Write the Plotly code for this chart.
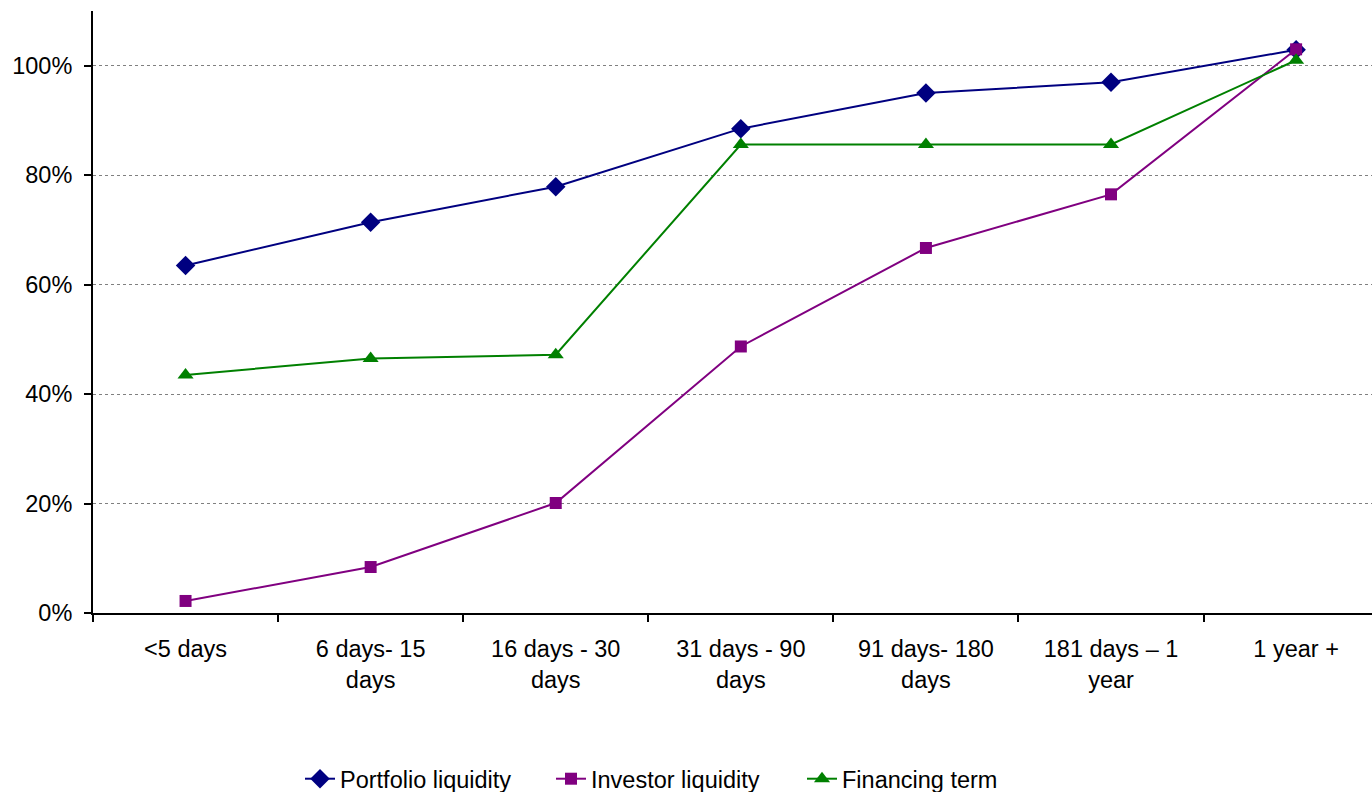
import plotly.graph_objects as go

categories = ["<5 days", "6 days- 15<br>days", "16 days - 30<br>days", "31 days - 90<br>days",
              "91 days- 180<br>days", "181 days – 1<br>year", "1 year +"]
portfolio_liquidity = [0.635, 0.714, 0.779, 0.885, 0.950, 0.970, 1.029]
investor_liquidity = [0.022, 0.084, 0.201, 0.487, 0.667, 0.765, 1.030]
financing_term = [0.435, 0.465, 0.472, 0.856, 0.856, 0.856, 1.010]

series = [
    ("Portfolio liquidity", portfolio_liquidity, "#000080", "diamond", 15),
    ("Investor liquidity", investor_liquidity, "#800080", "square", 12),
    ("Financing term", financing_term, "#008000", "triangle-up", 14),
]

fig = go.Figure()
for name, vals, color, symbol, size in series:
    fig.add_trace(go.Scatter(
        x=categories, y=vals, name=name, mode="lines+markers",
        line=dict(color=color, width=2),
        marker=dict(symbol=symbol, size=size, color=color),
    ))

font = dict(family="Liberation Sans, Arial, sans-serif", size=23.5, color="black")
fig.update_layout(
    width=1372, height=792,
    margin=dict(l=93, r=0, t=11, b=179, autoexpand=False),
    paper_bgcolor="white", plot_bgcolor="white",
    font=font,
    showlegend=True,
    legend=dict(orientation="h", xref="container", x=300 / 1372, xanchor="left",
                yref="container", y=0.0165, yanchor="middle",
                entrywidth=206, entrywidthmode="pixels",
                font=font, tracegroupgap=0),
)
fig.update_xaxes(
    type="category", range=[-0.5, 6.41],
    showline=True, linecolor="black", linewidth=2,
    ticks="outside", tickson="boundaries", ticklen=7, tickwidth=2, tickcolor="black",
    ticklabelstandoff=14,
    showgrid=False, tickfont=font, automargin=False,
)
fig.update_yaxes(
    range=[0, 1.10], tickvals=[0, 0.2, 0.4, 0.6, 0.8, 1.0], tickformat=".0%",
    showline=True, linecolor="black", linewidth=2,
    ticks="outside", ticklen=7, tickwidth=2, tickcolor="black",
    ticklabelstandoff=7,
    showgrid=True, gridcolor="#808080", gridwidth=1, griddash="dot",
    zeroline=False, tickfont=font, automargin=False,
)

fig.write_html("out.html")
